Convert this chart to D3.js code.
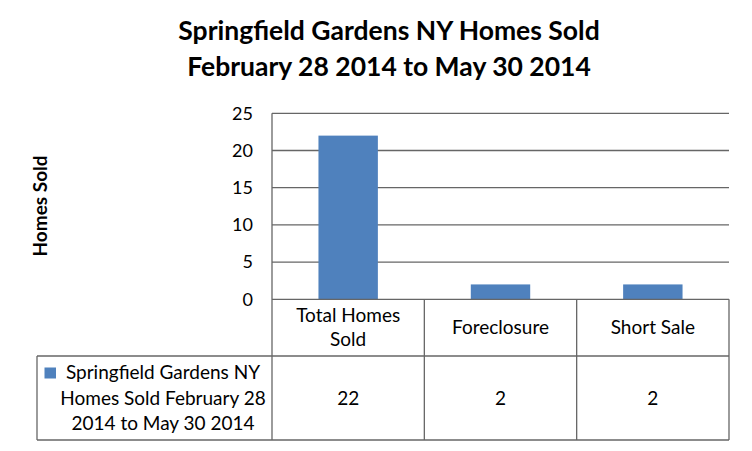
<!DOCTYPE html>
<html>
<head>
<meta charset="utf-8">
<script src="https://cdn.jsdelivr.net/npm/d3@7"></script>
<style>
  html, body { margin: 0; padding: 0; background: #ffffff; }
  svg { display: block; }
  text { font-family: Lato, "Open Sans", sans-serif; fill: #000; }
</style>
</head>
<body>
<div id="chart"></div>
<script>
const titleLines = ["Springfield Gardens NY Homes Sold", "February 28 2014 to May 30 2014"];
const categories = ["Total Homes Sold", "Foreclosure", "Short Sale"];
const categoryLabelLines = [["Total Homes", "Sold"], ["Foreclosure"], ["Short Sale"]];
const values = [22, 2, 2];
const yTicks = [0, 5, 10, 15, 20, 25];
const seriesName = "Springfield Gardens NY Homes Sold February 28 2014 to May 30 2014";
const seriesNameLines = ["Springfield Gardens NY", "Homes Sold February 28", "2014 to May 30 2014"];
const yAxisTitle = "Homes Sold";

const W = 752, H = 451;
const barColor = "#4f81bd";
const lineColor = "#666666";

const plot = { left: 272, right: 729, top: 113.3, bottom: 299.3 };
const table = { left: 37, row1Bottom: 356, row2Bottom: 440 };

const svg = d3.select("#chart").append("svg").attr("width", W).attr("height", H);

// Title
svg.append("g").selectAll("text").data(titleLines).join("text")
  .attr("x", 389).attr("y", (d, i) => 40 + i * 35.5)
  .attr("text-anchor", "middle")
  .style("font-weight", "bold").style("font-size", "26.5px")
  .text(d => d);

const x = d3.scaleBand().domain(categories).range([plot.left, plot.right])
  .paddingInner(0.61).paddingOuter(0.305);
const y = d3.scaleLinear().domain([0, 25]).range([plot.bottom, plot.top]);

// Gridlines
svg.append("g").selectAll("line").data(yTicks.filter(t => t > 0)).join("line")
  .attr("x1", plot.left).attr("x2", plot.right)
  .attr("y1", d => y(d)).attr("y2", d => y(d))
  .attr("stroke", lineColor).attr("stroke-width", 1.3);

// Y axis
const yAxis = d3.axisLeft(y).tickValues(yTicks).tickSize(0).tickPadding(19);
const ya = svg.append("g").attr("transform", `translate(${plot.left},0)`).call(yAxis);
ya.select(".domain").remove();
ya.selectAll("text").style("font-family", "Lato, sans-serif").style("font-size", "18px").attr("fill", "#000");

// Bars
svg.append("g").selectAll("rect").data(values).join("rect")
  .attr("x", (d, i) => x(categories[i]))
  .attr("width", x.bandwidth())
  .attr("y", d => y(d))
  .attr("height", d => y(0) - y(d))
  .attr("fill", barColor);

// Y axis title
svg.append("text")
  .attr("transform", "translate(47,206) rotate(-90)")
  .attr("text-anchor", "middle")
  .style("font-weight", "bold").style("font-size", "19px")
  .text(yAxisTitle);

// Data table lines
const step = x.step();
const tg = svg.append("g").attr("stroke", lineColor).attr("stroke-width", 1.3);
tg.append("line").attr("x1", plot.left).attr("x2", plot.left).attr("y1", plot.top).attr("y2", table.row2Bottom);
tg.append("line").attr("x1", plot.left).attr("x2", plot.right).attr("y1", plot.bottom).attr("y2", plot.bottom);
tg.append("line").attr("x1", table.left).attr("x2", plot.right).attr("y1", table.row1Bottom).attr("y2", table.row1Bottom);
tg.append("line").attr("x1", table.left).attr("x2", plot.right).attr("y1", table.row2Bottom).attr("y2", table.row2Bottom);
tg.append("line").attr("x1", table.left).attr("x2", table.left).attr("y1", table.row1Bottom).attr("y2", table.row2Bottom);
tg.selectAll(".div").data(categories).join("line").attr("class", "div")
  .attr("x1", d => x(d) - x.paddingInner() * step / 2 + step)
  .attr("x2", d => x(d) - x.paddingInner() * step / 2 + step)
  .attr("y1", plot.bottom).attr("y2", table.row2Bottom);

// Category labels
const cx = d => x(d) + x.bandwidth() / 2;
const catG = svg.append("g");
categories.forEach((c, i) => {
  const lines = categoryLabelLines[i];
  const mid = (plot.bottom + table.row1Bottom) / 2;
  const lh = 24;
  lines.forEach((ln, j) => {
    catG.append("text")
      .attr("x", cx(c))
      .attr("y", mid + (j - (lines.length - 1) / 2) * lh + 6.5)
      .attr("text-anchor", "middle")
      .style("font-size", "19px")
      .text(ln);
  });
});

// Value row
svg.append("g").selectAll("text").data(values).join("text")
  .attr("x", (d, i) => cx(categories[i]))
  .attr("y", (table.row1Bottom + table.row2Bottom) / 2 + 6.5)
  .attr("text-anchor", "middle")
  .style("font-size", "19px")
  .text(d => d);

// Legend key + series name
svg.append("rect").attr("x", 44.5).attr("y", 367.5).attr("width", 11.5).attr("height", 11)
  .attr("fill", barColor);
svg.append("g").selectAll("text").data(seriesNameLines).join("text")
  .attr("x", 163).attr("y", (d, i) => 379 + i * 25.5)
  .attr("text-anchor", "middle")
  .style("font-size", "19px")
  .text(d => d);
</script>
</body>
</html>
